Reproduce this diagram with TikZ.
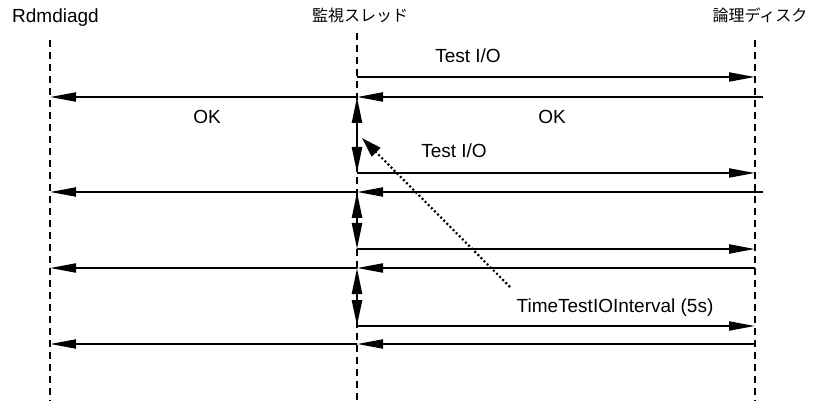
\documentclass[tikz,border=0pt]{standalone}
\usepackage{fontspec}
\setmainfont{Liberation Sans}
\newfontfamily\cjk{Noto Sans CJK JP}
\usetikzlibrary{arrows.meta}
\begin{document}
\begin{tikzpicture}[x=1pt,y=-1pt,
  lifeline/.style={line width=1.5pt,dash pattern=on 7pt off 5pt},
  msg/.style={line width=2pt,-{Triangle[length=26pt,width=9pt]}},
  gap/.style={line width=2.4pt,{Triangle[length=26pt,width=10pt]}-{Triangle[length=26pt,width=10pt]}},
  lbl/.style={font=\fontsize{19}{21}\selectfont,inner sep=0pt,anchor=base},
  head/.style={font=\fontsize{16}{18}\selectfont\cjk,inner sep=0pt},
  timer/.style={line width=2.2pt,dash pattern=on 2pt off 2.4pt,-{Triangle[length=20pt,width=12pt]}}]
\useasboundingbox (0,0) rectangle (815,401);
% headings
\node[lbl] (hA) at (55.5,23) {Rdmdiagd};
\node[head] (hB) at (360,15) {監視スレッド};
\node[head] (hC) at (760,15) {論理ディスク};
% lifelines
\coordinate (a0) at (50,40);   \coordinate (aE) at (50,401);
\coordinate (b0) at (357,33);  \coordinate (bE) at (357,401);
\coordinate (c0) at (755,40);  \coordinate (cE) at (755,401);
\draw[lifeline] (a0) -- (aE);
\draw[lifeline] (b0) -- (bE);
\draw[lifeline] (c0) -- (cE);
% rows: test I/O requests
\foreach \i/\y in {1/77,2/173,3/249,4/326}{
  \coordinate (bq\i) at (357,\y);
  \coordinate (cq\i) at (755,\y);
}
% rows: replies
\foreach \i/\y/\r in {1/97/763,2/192/763,3/268/755,4/344/755}{
  \coordinate (ar\i) at (50,\y);
  \coordinate (br\i) at (357,\y);
  \coordinate (cr\i) at (\r,\y);
}
\foreach \i in {1,2,3,4}{
  \draw[msg] (bq\i) -- (cq\i);
  \draw[msg] (cr\i) -- (br\i);
  \draw[msg] (br\i) -- (ar\i);
}
% intervals
\draw[gap] (br1) -- (bq2);
\draw[gap] (br2) -- (bq3);
\draw[gap] (br3) -- (bq4);
% labels
\node[lbl] (t1) at (468,63) {Test I/O};
\node[lbl] (t2) at (454,158) {Test I/O};
\node[lbl] (ok1) at (207,124) {OK};
\node[lbl] (ok2) at (552,124) {OK};
\node[lbl] (ti) at (615,312.5) {TimeTestIOInterval (5s)};
% timer pointer
\coordinate (tp) at (510,287);
\coordinate (tt) at (362,138);
\draw[timer] (tp) -- (tt);
\end{tikzpicture}
\end{document}
